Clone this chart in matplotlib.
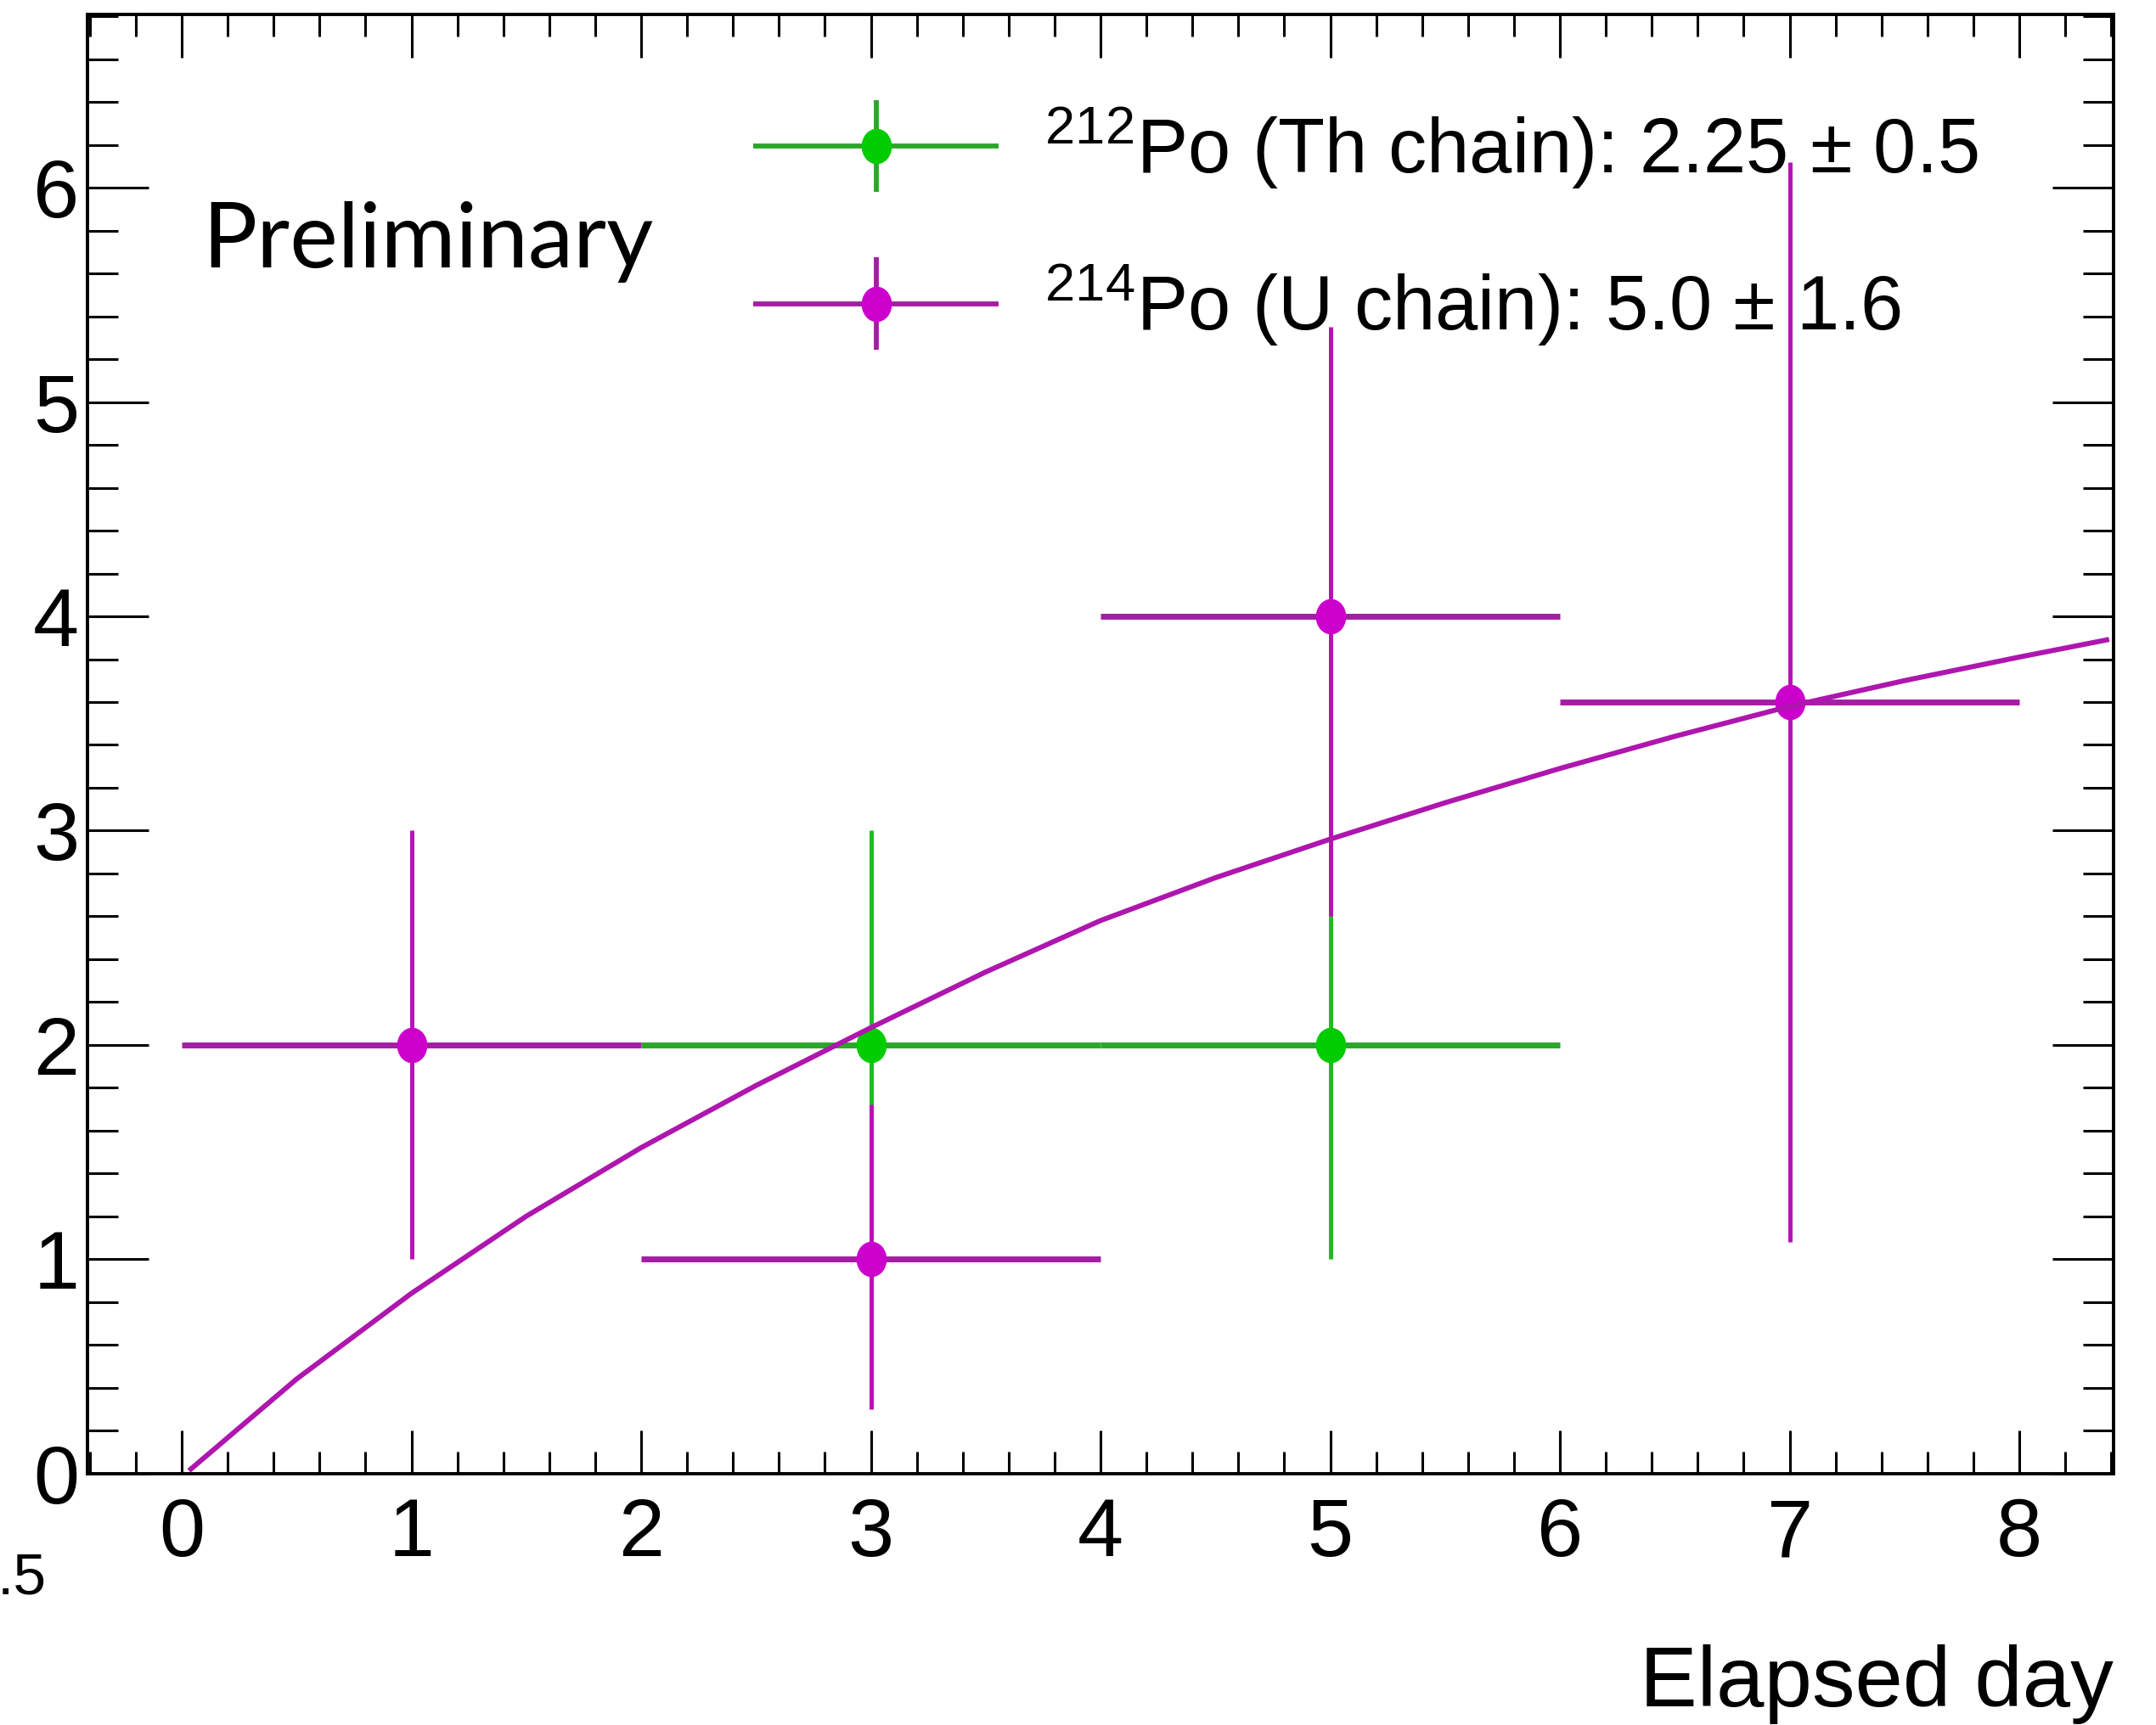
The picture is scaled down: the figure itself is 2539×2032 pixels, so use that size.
import matplotlib
matplotlib.use("Agg")
import matplotlib.pyplot as plt
import numpy as np
from matplotlib.container import ErrorbarContainer
from matplotlib.legend_handler import HandlerErrorbar
from matplotlib.path import Path
from matplotlib.transforms import Affine2D
from matplotlib.ticker import MultipleLocator

plt.rcParams['font.family'] = ['Liberation Sans', 'DejaVu Sans']

# 212Po (Th chain) points
th_x = [3, 5]
th_y = [2, 2]
th_xerr = [1, 1]
th_ylo = [1.0, 1.0]
th_yhi = [1.0, 1.0]

# 214Po (U chain) points
u_x = [1, 3, 5, 7]
u_y = [2, 1, 4, 3.6]
u_xerr = [1, 1, 1, 1]
u_ylo = [1.0, 0.70, 1.40, 2.52]
u_yhi = [1.0, 0.72, 1.35, 2.52]

# fitted growth curve
fit_x = [0.04, 0.5, 1, 1.5, 2, 2.5, 3, 3.5, 4, 4.5, 5, 5.5, 6, 6.5, 7, 7.5, 8, 8.38]
fit_y = [0.02, 0.44, 0.84, 1.20, 1.52, 1.81, 2.08, 2.34, 2.58, 2.78, 2.96, 3.13, 3.29, 3.44, 3.58, 3.70, 3.81, 3.89]

labels = [r'$\mathregular{^{212}}$Po (Th chain): 2.25 ± 0.5',
          r'$\mathregular{^{214}}$Po (U chain): 5.0 ± 1.6']

ellipse = Path.unit_circle().transformed(Affine2D().scale(0.85, 1.0))

fig = plt.figure(figsize=(25.39, 20.32), dpi=100)
ax = fig.add_axes([0.0406, 0.1459, 0.9397, 0.8458])


def puntos(x, y, xerr, ylo, yhi, c_mark, c_h, c_v, z):
    eb = ax.errorbar(x, y, xerr=xerr, yerr=[ylo, yhi], fmt='none', zorder=z)
    eb[2][0].set_color(c_h)
    eb[2][0].set_linewidth(5.0)
    eb[2][1].set_color(c_v)
    eb[2][1].set_linewidth(3.6)
    ax.plot(x, y, linestyle='none', marker=ellipse, markersize=29,
            color=c_mark, zorder=z + 0.1)
    return eb


eb_th = puntos(th_x, th_y, th_xerr, th_ylo, th_yhi, '#00cc00', '#2aa62a', '#22bb22', 2)
eb_u = puntos(u_x, u_y, u_xerr, u_ylo, u_yhi, '#cc00cc', '#a41ea4', '#b812b8', 3)
ax.plot(fit_x, fit_y, color='#ae16ae', linewidth=4.3, zorder=4,
        solid_joinstyle='round')

# legend handles with markers
h_th = ax.errorbar([np.nan], [np.nan], xerr=[1], yerr=[1], fmt='o', marker=ellipse,
                   markersize=29, color='#00cc00', ecolor='#2aa62a', elinewidth=4.2)
h_u = ax.errorbar([np.nan], [np.nan], xerr=[1], yerr=[1], fmt='o', marker=ellipse,
                  markersize=29, color='#cc00cc', ecolor='#a41ea4', elinewidth=4.2)

ax.legend([h_th, h_u], labels, loc='upper left', bbox_to_anchor=(0.3286, 0.938),
          frameon=False, fontsize=65, handlelength=3.2, handletextpad=0.6,
          labelspacing=0.93, borderpad=0, borderaxespad=0, numpoints=1,
          handler_map={ErrorbarContainer: HandlerErrorbar(xerr_size=1.6, yerr_size=0.6)})

ax.text(0.09, 5.63, 'Preliminary', fontsize=77, family=['Lato', 'DejaVu Sans'],
        fontweight='normal', ha='left', va='baseline')

ax.set_xlim(-0.41, 8.41)
ax.set_ylim(0, 6.81)
ax.xaxis.set_major_locator(MultipleLocator(1))
ax.xaxis.set_minor_locator(MultipleLocator(0.2))
ax.yaxis.set_major_locator(MultipleLocator(1))
ax.yaxis.set_minor_locator(MultipleLocator(0.2))
ax.tick_params(axis='both', which='both', direction='in', top=True, right=True,
               width=2.2, colors='black')
ax.tick_params(axis='x', which='major', length=37, labelsize=70, pad=20)
ax.tick_params(axis='x', which='minor', length=18.5)
ax.tick_params(axis='y', which='major', length=52, labelsize=70, pad=7)
ax.tick_params(axis='y', which='minor', length=26)
for s in ax.spines.values():
    s.set_linewidth(2.8)

ax.set_xlabel('Elapsed day', fontsize=73, loc='right')
ax.xaxis.set_label_coords(1.0, -0.117)

fig.text(0.0215, 0.0758, '.5', fontsize=50, ha='right', va='baseline')

fig.savefig('out.png', dpi=100)
